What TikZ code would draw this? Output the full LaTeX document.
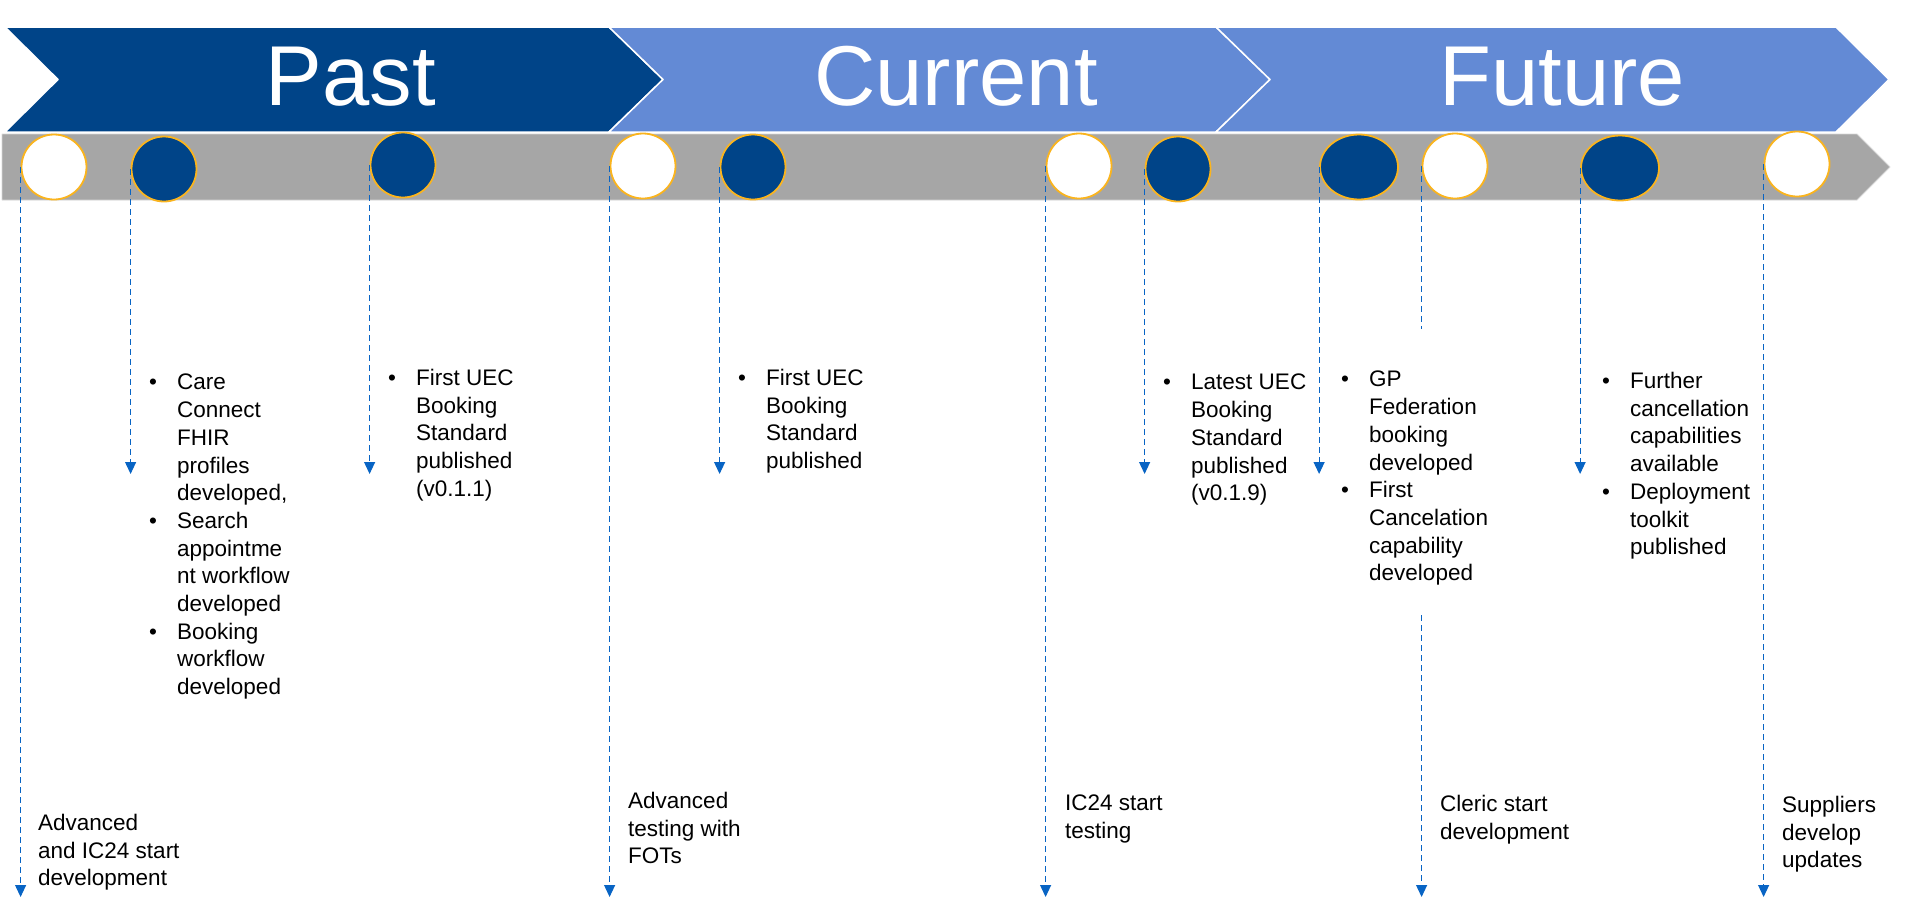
\documentclass[tikz,border=0pt]{standalone}
\usepackage{fontspec}
\setmainfont{Liberation Sans}
\usetikzlibrary{shapes.geometric,arrows.meta}

\definecolor{pastblue}{RGB}{0,68,136}
\definecolor{phaseblue}{RGB}{99,138,213}
\definecolor{bargrey}{RGB}{166,166,166}
\definecolor{barline}{RGB}{214,214,214}
\definecolor{ringgold}{RGB}{250,180,30}
\definecolor{linkblue}{RGB}{8,100,196}

\newcommand\bul{\makebox[28pt][l]{\textbullet}}
\newcommand\ind{\hspace*{28pt}}

\tikzset{
  phase/.style={draw=white,line width=1.5pt},
  phasetitle/.style={anchor=base,text=white,inner sep=0pt,font=\fontsize{85pt}{100pt}\selectfont},
  eventmark/.style={ellipse,draw=ringgold,line width=1.8pt,fill=white,
    minimum width=65pt,minimum height=65pt,inner sep=0pt},
  releasemark/.style={eventmark,fill=pastblue},
  link/.style={draw=linkblue,line width=1.1pt,dash pattern=on 6pt off 4pt,
    -{Triangle[width=11pt,length=12pt]}},
  note/.style={anchor=north west,inner sep=0pt,align=left,
    font=\fontsize{22.5pt}{27.7pt}\selectfont},
}

\begin{document}
\begin{tikzpicture}[x=1pt,y=-1pt,line join=round]
  % Match the slide frame.
  \useasboundingbox (0,0) rectangle (1928,919);

  % Phase chevrons.
  \fill[pastblue,phase] (5,27) -- (609,27) -- (663,79.5) -- (609,132) -- (5,132) -- (58,79.5) -- cycle;
  \fill[phaseblue,phase] (609,27) -- (1216,27) -- (1270,79.5) -- (1216,132) -- (609,132) -- (663,79.5) -- cycle;
  \fill[phaseblue,phase] (1216,27) -- (1836,27) -- (1889,79.5) -- (1836,132) -- (1216,132) -- (1270,79.5) -- cycle;
  \node[phasetitle] (past) at (351,105) {Past};
  \node[phasetitle] (current) at (956,105) {Current};
  \node[phasetitle] (future) at (1562,105) {Future};

  % Grey time bar.
  \filldraw[fill=bargrey,draw=barline,line width=0.8pt]
    (2,134) -- (1857,134) -- (1890,167) -- (1857,200) -- (2,200) -- cycle;

  % Milestones: white are events, blue are releases.
  \node[eventmark] (m1) at (54,167) {};
  \node[releasemark] (m2) at (164,169) {};
  \node[releasemark] (m3) at (403,165) {};
  \node[eventmark] (m4) at (643,166) {};
  \node[releasemark] (m5) at (753,167) {};
  \node[eventmark] (m6) at (1079,166) {};
  \node[releasemark] (m7) at (1178,169) {};
  \node[releasemark,minimum width=78pt] (m8) at (1359,167) {};
  \node[eventmark] (m9) at (1455,166) {};
  \node[releasemark,minimum width=78pt] (m10) at (1620,168) {};
  \node[eventmark] (m11) at (1797,164) {};

  % Arrow ends and the break in the Cleric line.
  \coordinate (mid) at (0,474);
  \coordinate (low) at (0,897);
  \coordinate (gaptop) at (0,329);
  \coordinate (gapbot) at (0,615);

  % Dashed drop lines from the left edge of each milestone.
  \foreach \m in {m2,m3,m5,m7,m8,m10}
    \draw[link] (\m.west) -- (\m.west |- mid);
  \foreach \m in {m1,m4,m6,m11}
    \draw[link] (\m.west) -- (\m.west |- low);
  \draw[link,-] (m9.west) -- (m9.west |- gaptop);
  \draw[link] (m9.west |- gapbot) -- (m9.west |- low);

  % Release notes.
  \node[note] (n2) at (149,374) {\bul Care\\ \ind Connect\\ \ind FHIR\\ \ind profiles\\ \ind developed,\\
    \bul Search\\ \ind appointme\\ \ind nt workflow\\ \ind developed\\ \bul Booking\\ \ind workflow\\ \ind developed};
  \node[note] (n3) at (388,369) {\bul First UEC\\ \ind Booking\\ \ind Standard\\ \ind published\\ \ind (v0.1.1)};
  \node[note] (n5) at (738,369) {\bul First UEC\\ \ind Booking\\ \ind Standard\\ \ind published};
  \node[note] (n7) at (1163,374) {\bul Latest UEC\\ \ind Booking\\ \ind Standard\\ \ind published\\ \ind (v0.1.9)};
  \node[note] (n8) at (1341,371) {\bul GP\\ \ind Federation\\ \ind booking\\ \ind developed\\
    \bul First\\ \ind Cancelation\\ \ind capability\\ \ind developed};
  \node[note] (n10) at (1602,372) {\bul Further\\ \ind cancellation\\ \ind capabilities\\ \ind available\\
    \bul Deployment\\ \ind toolkit\\ \ind published};

  % Event notes.
  \node[note] (n1) at (38,814) {Advanced\\ and IC24 start\\ development};
  \node[note] (n4) at (628,792) {Advanced\\ testing with\\ FOTs};
  \node[note] (n6) at (1065,795) {IC24 start\\ testing};
  \node[note] (n9) at (1440,795) {Cleric start\\ development};
  \node[note] (n11) at (1782,796) {Suppliers\\ develop\\ updates};
\end{tikzpicture}
\end{document}
